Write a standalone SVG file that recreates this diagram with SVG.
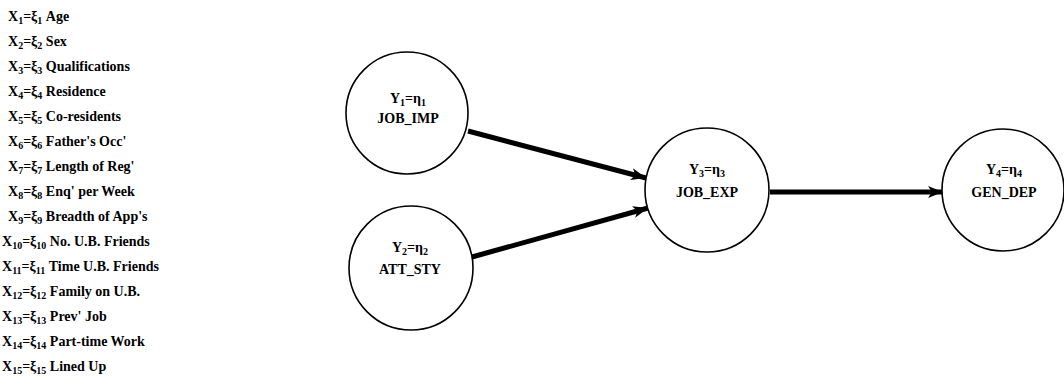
<svg xmlns="http://www.w3.org/2000/svg" width="1064" height="385" viewBox="0 0 1064 385">
<defs>
<style>
text{font-family:"Liberation Serif","Times New Roman",serif;font-weight:bold;fill:#000;}
.lg{font-size:14px;}
.nd{font-size:14px;text-anchor:middle;}
.sb{font-size:10px;}
circle{fill:#fff;stroke:#000;stroke-width:1.6;}
.cn{stroke:#000;stroke-width:5;fill:none;}
</style>
<marker id="ah" markerUnits="userSpaceOnUse" markerWidth="18" markerHeight="14" refX="15" refY="7" orient="auto">
<path d="M0,1 L15,7 L0,13 L4,7 z" fill="#000"/>
</marker>
</defs>
<rect width="1064" height="385" fill="#fff"/>
<g id="legend" class="lg">
<text x="8" y="21">X<tspan class="sb" dy="3">1</tspan><tspan dy="-3">=ξ</tspan><tspan class="sb" dy="3">1</tspan><tspan dy="-3"> Age</tspan></text>
<text x="8" y="46">X<tspan class="sb" dy="3">2</tspan><tspan dy="-3">=ξ</tspan><tspan class="sb" dy="3">2</tspan><tspan dy="-3"> Sex</tspan></text>
<text x="8" y="71">X<tspan class="sb" dy="3">3</tspan><tspan dy="-3">=ξ</tspan><tspan class="sb" dy="3">3</tspan><tspan dy="-3"> Qualifications</tspan></text>
<text x="8" y="96">X<tspan class="sb" dy="3">4</tspan><tspan dy="-3">=ξ</tspan><tspan class="sb" dy="3">4</tspan><tspan dy="-3"> Residence</tspan></text>
<text x="8" y="121">X<tspan class="sb" dy="3">5</tspan><tspan dy="-3">=ξ</tspan><tspan class="sb" dy="3">5</tspan><tspan dy="-3"> Co-residents</tspan></text>
<text x="8" y="146">X<tspan class="sb" dy="3">6</tspan><tspan dy="-3">=ξ</tspan><tspan class="sb" dy="3">6</tspan><tspan dy="-3"> Father's Occ'</tspan></text>
<text x="8" y="171">X<tspan class="sb" dy="3">7</tspan><tspan dy="-3">=ξ</tspan><tspan class="sb" dy="3">7</tspan><tspan dy="-3"> Length of Reg'</tspan></text>
<text x="8" y="196">X<tspan class="sb" dy="3">8</tspan><tspan dy="-3">=ξ</tspan><tspan class="sb" dy="3">8</tspan><tspan dy="-3"> Enq' per Week</tspan></text>
<text x="8" y="221">X<tspan class="sb" dy="3">9</tspan><tspan dy="-3">=ξ</tspan><tspan class="sb" dy="3">9</tspan><tspan dy="-3"> Breadth of App's</tspan></text>
<text x="2" y="246">X<tspan class="sb" dy="3">10</tspan><tspan dy="-3">=ξ</tspan><tspan class="sb" dy="3">10</tspan><tspan dy="-3"> No. U.B. Friends</tspan></text>
<text x="2" y="271">X<tspan class="sb" dy="3">11</tspan><tspan dy="-3">=ξ</tspan><tspan class="sb" dy="3">11</tspan><tspan dy="-3"> Time U.B. Friends</tspan></text>
<text x="2" y="296">X<tspan class="sb" dy="3">12</tspan><tspan dy="-3">=ξ</tspan><tspan class="sb" dy="3">12</tspan><tspan dy="-3"> Family on U.B.</tspan></text>
<text x="2" y="321">X<tspan class="sb" dy="3">13</tspan><tspan dy="-3">=ξ</tspan><tspan class="sb" dy="3">13</tspan><tspan dy="-3"> Prev' Job</tspan></text>
<text x="2" y="346">X<tspan class="sb" dy="3">14</tspan><tspan dy="-3">=ξ</tspan><tspan class="sb" dy="3">14</tspan><tspan dy="-3"> Part-time Work</tspan></text>
<text x="2" y="371">X<tspan class="sb" dy="3">15</tspan><tspan dy="-3">=ξ</tspan><tspan class="sb" dy="3">15</tspan><tspan dy="-3"> Lined Up</tspan></text>
</g>
<g id="connectors">
<line class="cn" x1="468" y1="131" x2="646" y2="178" marker-end="url(#ah)"/>
<line class="cn" x1="472" y1="257" x2="648" y2="208" marker-end="url(#ah)"/>
<line class="cn" x1="770" y1="192" x2="943" y2="192" marker-end="url(#ah)"/>
</g>
<g id="n1">
<circle cx="407" cy="113" r="61"/>
<text class="nd" x="408" y="103">Y<tspan class="sb" dy="3">1</tspan><tspan dy="-3">=η</tspan><tspan class="sb" dy="3">1</tspan></text>
<text class="nd" x="408" y="123">JOB_IMP</text>
</g>
<g id="n2">
<circle cx="411" cy="268" r="62"/>
<text class="nd" x="410" y="252">Y<tspan class="sb" dy="3">2</tspan><tspan dy="-3">=η</tspan><tspan class="sb" dy="3">2</tspan></text>
<text class="nd" x="410" y="274">ATT_STY</text>
</g>
<g id="n3">
<circle cx="707" cy="190" r="62"/>
<text class="nd" x="707" y="174">Y<tspan class="sb" dy="3">3</tspan><tspan dy="-3">=η</tspan><tspan class="sb" dy="3">3</tspan></text>
<text class="nd" x="707" y="197">JOB_EXP</text>
</g>
<g id="n4">
<circle cx="1003" cy="190" r="61"/>
<text class="nd" x="1004" y="174">Y<tspan class="sb" dy="3">4</tspan><tspan dy="-3">=η</tspan><tspan class="sb" dy="3">4</tspan></text>
<text class="nd" x="1004" y="197">GEN_DEP</text>
</g>
</svg>
